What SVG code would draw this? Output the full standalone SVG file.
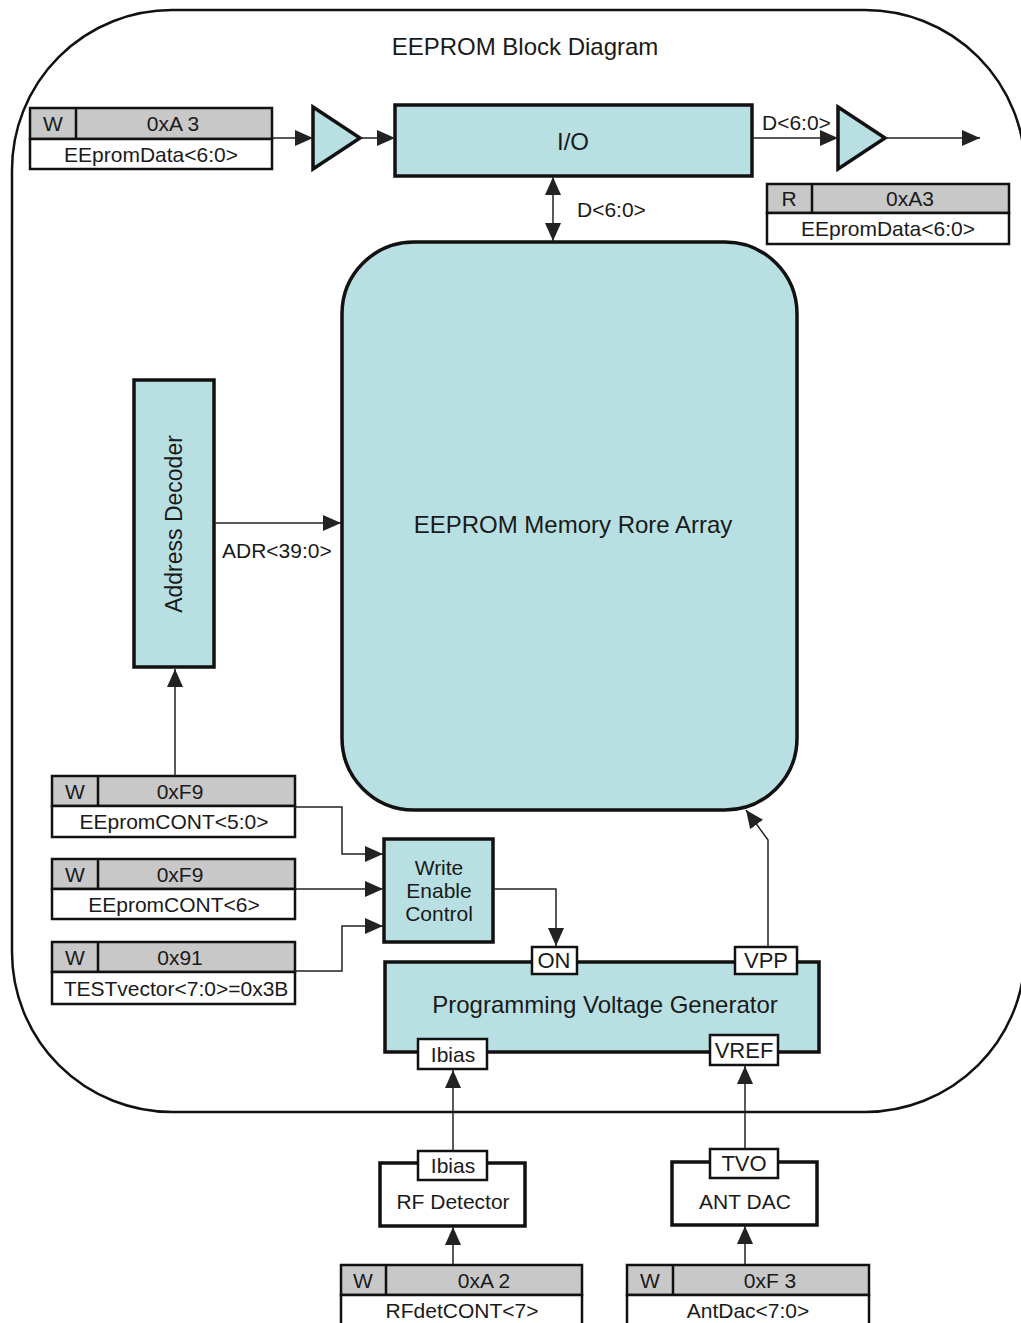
<svg xmlns="http://www.w3.org/2000/svg" width="1021" height="1323" viewBox="0 0 1021 1323">
<style>
text{font-family:"Liberation Sans",Arial,sans-serif;fill:#1a1a1a}
.blk{fill:#b8e0e2;stroke:#111;stroke-width:3.5}
.wb{fill:#fff;stroke:#111;stroke-width:3.5}
.port{fill:#fff;stroke:#111;stroke-width:2.5}
.rg{fill:#c8c8c8;stroke:#111;stroke-width:2.5}
.rw{fill:#fff;stroke:#111;stroke-width:2.5}
.t18{font-size:21px;text-anchor:middle}
.t20{font-size:21px;text-anchor:middle}
.tp{font-size:22px;text-anchor:middle}
.ta{font-size:23px;text-anchor:middle}
.t22{font-size:24px;text-anchor:middle}
.lb{font-size:21px}
.ln{fill:none;stroke:#222;stroke-width:1.5}
</style>
<defs>
<marker id="ahb" viewBox="0 0 18 16" refX="18" refY="8" markerWidth="18" markerHeight="16" markerUnits="userSpaceOnUse" orient="auto-start-reverse">
<path d="M0,0 L18,8 L0,16 z" fill="#222"/>
</marker>
</defs>
<rect width="1021" height="1323" fill="#fff"/>
<g id="frame">
<rect x="12" y="10" width="1013" height="1102" rx="160" ry="160" fill="none" stroke="#111" stroke-width="2.5"/>
<text x="525" y="55" class="t22">EEPROM Block Diagram</text>
</g>

<g id="reg-w-a3">
<rect x="30" y="108" width="242" height="31" class="rg"/>
<rect x="30" y="139" width="242" height="30" class="rw"/>
<line x1="76" y1="108" x2="76" y2="139" stroke="#111" stroke-width="2.5"/>
<text x="53" y="131" class="t18">W</text>
<text x="173" y="131" class="t18">0xA 3</text>
<text x="151" y="162" class="t18">EEpromData&lt;6:0&gt;</text>
</g>
<g id="buf-in">
<path d="M313,107 L360,138 L313,169 z" class="blk" stroke-width="2.5"/>
</g>
<g id="io">
<rect x="395" y="105" width="357" height="71" class="blk"/>
<text x="573" y="150" class="t22">I/O</text>
</g>
<g id="buf-out">
<path d="M838,107 L885,138 L838,169 z" class="blk" stroke-width="2.5"/>
</g>
<g id="reg-r-a3">
<rect x="767" y="184" width="242" height="29" class="rg"/>
<rect x="767" y="213" width="242" height="31" class="rw"/>
<line x1="812" y1="184" x2="812" y2="213" stroke="#111" stroke-width="2.5"/>
<text x="789" y="206" class="t18">R</text>
<text x="910" y="206" class="t18">0xA3</text>
<text x="888" y="236" class="t18">EEpromData&lt;6:0&gt;</text>
</g>
<g id="memory">
<rect x="342" y="242" width="455" height="568" rx="72" ry="72" class="blk"/>
<text x="573" y="533" class="t22">EEPROM Memory Rore Array</text>
</g>
<g id="addr-dec">
<rect x="134" y="380" width="80" height="287" class="blk"/>
<text transform="translate(182,524) rotate(-90)" class="ta">Address Decoder</text>
</g>
<g id="reg-cont50">
<rect x="52" y="776" width="243" height="30" class="rg"/>
<rect x="52" y="806" width="243" height="31" class="rw"/>
<line x1="98" y1="776" x2="98" y2="806" stroke="#111" stroke-width="2.5"/>
<text x="75" y="799" class="t18">W</text>
<text x="180" y="799" class="t18">0xF9</text>
<text x="174" y="829" class="t18">EEpromCONT&lt;5:0&gt;</text>
</g>
<g id="reg-cont6">
<rect x="52" y="859" width="243" height="30" class="rg"/>
<rect x="52" y="889" width="243" height="30" class="rw"/>
<line x1="98" y1="859" x2="98" y2="889" stroke="#111" stroke-width="2.5"/>
<text x="75" y="882" class="t18">W</text>
<text x="180" y="882" class="t18">0xF9</text>
<text x="174" y="912" class="t18">EEpromCONT&lt;6&gt;</text>
</g>
<g id="reg-test">
<rect x="52" y="942" width="243" height="30" class="rg"/>
<rect x="52" y="972" width="243" height="32" class="rw"/>
<line x1="98" y1="942" x2="98" y2="972" stroke="#111" stroke-width="2.5"/>
<text x="75" y="965" class="t18">W</text>
<text x="180" y="965" class="t18">0x91</text>
<text x="176" y="996" class="t18" font-size="20">TESTvector&lt;7:0&gt;=0x3B</text>
</g>
<g id="wec">
<rect x="384" y="839" width="109" height="103" class="blk"/>
<text x="439" y="875" class="t20">Write</text>
<text x="439" y="898" class="t20">Enable</text>
<text x="439" y="921" class="t20">Control</text>
</g>
<g id="pvg">
<rect x="385" y="962" width="434" height="90" class="blk"/>
<text x="605" y="1013" class="t22">Programming Voltage Generator</text>
<rect x="532" y="947" width="45" height="27" class="port"/>
<text x="554" y="968" class="tp">ON</text>
<rect x="735" y="947" width="62" height="27" class="port"/>
<text x="766" y="968" class="tp">VPP</text>
<rect x="418" y="1039" width="69" height="30" class="port"/>
<text x="453" y="1062" class="t18">Ibias</text>
<rect x="710" y="1035" width="68" height="30" class="port"/>
<text x="744" y="1058" class="tp">VREF</text>
</g>
<g id="rfdet">
<rect x="380" y="1163" width="145" height="63" class="wb"/>
<text x="453" y="1209" class="t20">RF Detector</text>
<rect x="418" y="1151" width="69" height="29" class="port"/>
<text x="453" y="1173" class="t18">Ibias</text>
</g>
<g id="antdac">
<rect x="672" y="1162" width="145" height="63" class="wb"/>
<text x="745" y="1209" class="t20">ANT DAC</text>
<rect x="710" y="1149" width="68" height="29" class="port"/>
<text x="744" y="1171" class="tp">TVO</text>
</g>
<g id="reg-a2">
<rect x="341" y="1265" width="241" height="30" class="rg"/>
<rect x="341" y="1295" width="241" height="32" class="rw"/>
<line x1="386" y1="1265" x2="386" y2="1295" stroke="#111" stroke-width="2.5"/>
<text x="363" y="1288" class="t18">W</text>
<text x="484" y="1288" class="t18">0xA 2</text>
<text x="462" y="1318" class="t18">RFdetCONT&lt;7&gt;</text>
</g>
<g id="reg-f3">
<rect x="627" y="1265" width="242" height="30" class="rg"/>
<rect x="627" y="1295" width="242" height="32" class="rw"/>
<line x1="673" y1="1265" x2="673" y2="1295" stroke="#111" stroke-width="2.5"/>
<text x="650" y="1288" class="t18">W</text>
<text x="770" y="1288" class="t18">0xF 3</text>
<text x="748" y="1318" class="t18">AntDac&lt;7:0&gt;</text>
</g>

<g id="connectors">
<line x1="272" y1="138" x2="313" y2="138" class="ln" marker-end="url(#ahb)"/>
<line x1="360" y1="138" x2="395" y2="138" class="ln" marker-end="url(#ahb)"/>
<line x1="752" y1="138" x2="838" y2="138" class="ln" marker-end="url(#ahb)"/>
<text x="762" y="130" class="lb">D&lt;6:0&gt;</text>
<line x1="885" y1="138" x2="980" y2="138" class="ln" marker-end="url(#ahb)"/>
<line x1="553" y1="177" x2="553" y2="241" class="ln" marker-start="url(#ahb)" marker-end="url(#ahb)"/>
<text x="577" y="217" class="lb">D&lt;6:0&gt;</text>
<line x1="214" y1="523" x2="341" y2="523" class="ln" marker-end="url(#ahb)"/>
<text x="222" y="558" class="lb">ADR&lt;39:0&gt;</text>
<line x1="175" y1="776" x2="175" y2="669" class="ln" marker-end="url(#ahb)"/>
<polyline points="295,807 342,807 342,854 383,854" class="ln" marker-end="url(#ahb)"/>
<line x1="295" y1="889" x2="383" y2="889" class="ln" marker-end="url(#ahb)"/>
<polyline points="295,971 342,971 342,926 383,926" class="ln" marker-end="url(#ahb)"/>
<polyline points="493,889 556,889 556,946" class="ln" marker-end="url(#ahb)"/>
<polyline points="768,947 768,840 746,810" class="ln" marker-end="url(#ahb)"/>
<line x1="453" y1="1151" x2="453" y2="1070" class="ln" marker-end="url(#ahb)"/>
<line x1="745" y1="1149" x2="745" y2="1066" class="ln" marker-end="url(#ahb)"/>
<line x1="453" y1="1265" x2="453" y2="1227" class="ln" marker-end="url(#ahb)"/>
<line x1="745" y1="1265" x2="745" y2="1226" class="ln" marker-end="url(#ahb)"/>
</g>
</svg>
